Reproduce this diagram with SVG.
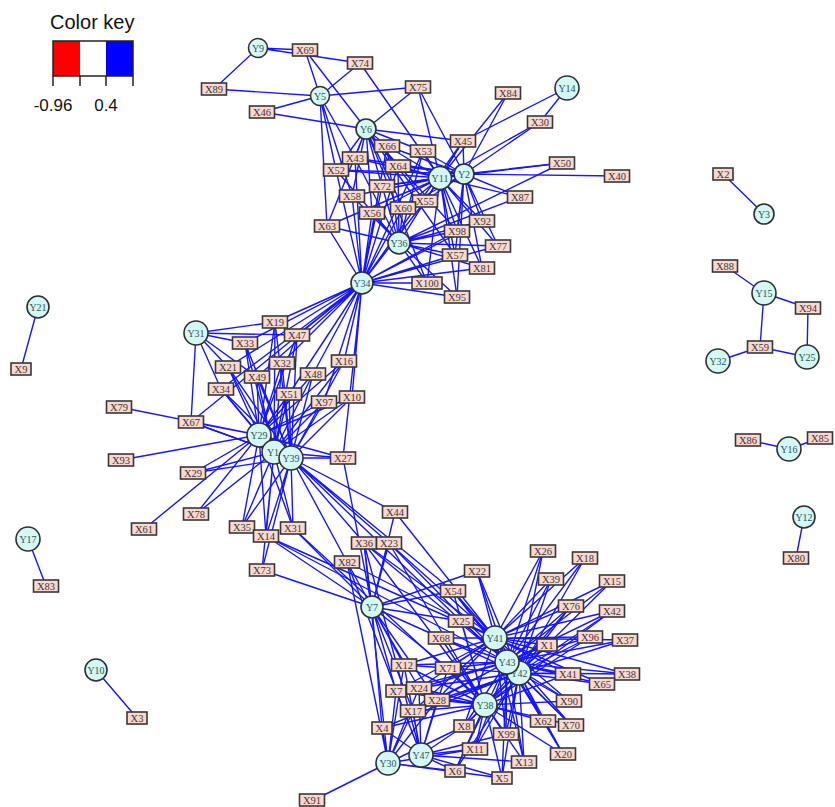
<svg xmlns="http://www.w3.org/2000/svg" width="835" height="807" viewBox="0 0 835 807">
<style>
.e path{fill:none;stroke:#1616ff;stroke-width:1.4;stroke-linecap:round}
.x rect{fill:#f9d8cf;stroke:#383838;stroke-width:1.6}
.x text{font-family:"Liberation Serif","Times New Roman",serif;font-size:10.5px;fill:#3f3434;text-anchor:middle}
.y circle{fill:#d3f8f6;stroke:#2f2f2f;stroke-width:1.6}
.y text{font-family:"Liberation Serif","Times New Roman",serif;font-size:10px;fill:#385050;text-anchor:middle}
.key text{font-family:"Liberation Sans",Arial,sans-serif;fill:#111}
</style>
<rect width="835" height="807" fill="#fff"/>

<!-- colour key -->
<g id="color-key" class="key">
  <text x="50" y="29" font-size="20">Color key</text>
  <rect x="53" y="41" width="27" height="35" fill="#ff0000"/>
  <rect x="80" y="41" width="26" height="35" fill="#ffffff"/>
  <rect x="106" y="41" width="27" height="35" fill="#0000ff"/>
  <rect x="53" y="41" width="80" height="35" fill="none" stroke="#222" stroke-width="1.5"/>
  <path d="M53 76V86M80 76V86M106 76V86M133 76V86" stroke="#222" stroke-width="1.5"/>
  <text x="53" y="111" font-size="17" text-anchor="middle">-0.96</text>
  <text x="106" y="111" font-size="17" text-anchor="middle">0.4</text>
</g>

<!-- connectors -->
<g id="connectors" class="e">
<path d="M258 48L214 89M258 48L305 50M258 48L360 63"/>
<path d="M320 96L214 89M320 96L305 50M320 96L360 63M320 96L418 87M320 96L262 112M320 96L355 158M320 96L336 170M320 96L327 226M320 96L352 196"/>
<path d="M366 129L305 50M366 129L418 87M366 129L262 112M366 129L463 141M366 129L387 146M366 129L423 151M366 129L355 158M366 129L398 166M366 129L336 170M366 129L382 186M366 129L352 196M366 129L372 213M366 129L403 208M366 129L425 201M366 129L327 226M366 129L457 231M366 129L455 255M366 129L427 283"/>
<path d="M567 88L540 122M567 88L463 141"/>
<path d="M440 178L360 63M440 178L418 87M440 178L508 93M440 178L540 122M440 178L463 141M440 178L387 146M440 178L423 151M440 178L355 158M440 178L398 166M440 178L336 170M440 178L382 186M440 178L352 196M440 178L425 201M440 178L403 208M440 178L372 213M440 178L327 226M440 178L482 221M440 178L457 231M440 178L455 255M440 178L482 268M440 178L427 283M440 178L457 297M440 178L562 163M440 178L520 197M440 178L498 246"/>
<path d="M464 174L508 93M464 174L540 122M464 174L463 141M464 174L562 163M464 174L617 176M464 174L520 197M464 174L482 221M464 174L457 231M464 174L498 246M464 174L455 255M464 174L482 268M464 174L398 166M464 174L423 151M464 174L418 87M464 174L387 146M464 174L382 186M464 174L425 201M464 174L457 297M464 174L403 208M464 174L355 158M464 174L336 170"/>
<path d="M399 243L387 146M399 243L423 151M399 243L398 166M399 243L382 186M399 243L425 201M399 243L403 208M399 243L372 213M399 243L352 196M399 243L355 158M399 243L336 170M399 243L327 226M399 243L482 221M399 243L457 231M399 243L498 246M399 243L455 255M399 243L482 268M399 243L427 283M399 243L457 297M399 243L463 141M399 243L520 197M399 243L562 163"/>
<path d="M362 283L387 146M362 283L355 158M362 283L336 170M362 283L398 166M362 283L382 186M362 283L352 196M362 283L372 213M362 283L403 208M362 283L425 201M362 283L327 226M362 283L457 231M362 283L455 255M362 283L482 268M362 283L427 283M362 283L457 297M362 283L482 221M362 283L498 246M362 283L423 151M362 283L463 141M362 283L275 322M362 283L297 335M362 283L245 343M362 283L228 367M362 283L282 363M362 283L257 377M362 283L313 374M362 283L344 361M362 283L289 394M362 283L324 402M362 283L352 397M362 283L221 389M362 283L343 458M362 283L191 422"/>
<path d="M196 333L275 322M196 333L297 335M196 333L245 343M196 333L228 367M196 333L221 389M196 333L191 422M196 333L257 377"/>
<path d="M259 435L275 322M259 435L297 335M259 435L245 343M259 435L228 367M259 435L282 363M259 435L257 377M259 435L313 374M259 435L344 361M259 435L221 389M259 435L289 394M259 435L324 402M259 435L352 397M259 435L191 422M259 435L119 407M259 435L121 460M259 435L193 473M259 435L196 514M259 435L144 529M259 435L242 527M259 435L293 528M259 435L266 536M259 435L343 458"/>
<path d="M274 452L275 322M274 452L297 335M274 452L245 343M274 452L228 367M274 452L282 363M274 452L257 377M274 452L313 374M274 452L221 389M274 452L289 394M274 452L324 402M274 452L352 397M274 452L191 422M274 452L193 473M274 452L196 514M274 452L242 527M274 452L266 536M274 452L293 528M274 452L262 570M274 452L343 458M274 452L344 361"/>
<path d="M291 458L275 322M291 458L297 335M291 458L245 343M291 458L228 367M291 458L282 363M291 458L257 377M291 458L313 374M291 458L344 361M291 458L289 394M291 458L324 402M291 458L352 397M291 458L343 458M291 458L193 473M291 458L242 527M291 458L266 536M291 458L293 528M291 458L347 562M291 458L364 543M291 458L389 543M291 458L395 512M291 458L262 570M291 458L191 422M291 458L221 389M291 458L453 591M291 458L461 621"/>
<path d="M372 607L364 543M372 607L389 543M372 607L347 562M372 607L343 458M372 607L262 570M372 607L266 536M372 607L293 528M372 607L395 512M372 607L477 571M372 607L453 591M372 607L461 621M372 607L441 638M372 607L404 665M372 607L448 668M372 607L396 691M372 607L419 688M372 607L437 700M372 607L413 711M372 607L382 728"/>
<path d="M495 638L364 543M495 638L389 543M495 638L395 512M495 638L347 562M495 638L266 536M495 638L477 571M495 638L453 591M495 638L461 621M495 638L441 638M495 638L543 551M495 638L585 558M495 638L551 579M495 638L612 581M495 638L571 606M495 638L612 611M495 638L590 637M495 638L625 640M495 638L547 645M495 638L568 674M495 638L627 674M495 638L602 684M495 638L569 701M495 638L543 721M495 638L571 725M495 638L404 665M495 638L448 668M495 638L419 688M495 638L437 700M495 638L413 711M495 638L464 726M495 638L506 734M495 638L524 762M495 638L563 754M495 638L396 691"/>
<path d="M507 662L477 571M507 662L453 591M507 662L461 621M507 662L441 638M507 662L543 551M507 662L585 558M507 662L551 579M507 662L612 581M507 662L571 606M507 662L612 611M507 662L590 637M507 662L625 640M507 662L547 645M507 662L568 674M507 662L627 674M507 662L602 684M507 662L569 701M507 662L543 721M507 662L571 725M507 662L563 754M507 662L404 665M507 662L448 668M507 662L419 688M507 662L437 700M507 662L413 711M507 662L396 691M507 662L464 726M507 662L506 734M507 662L475 749M507 662L524 762M507 662L455 771M507 662L502 778M507 662L364 543M507 662L389 543M507 662L266 536"/>
<path d="M519 673L477 571M519 673L543 551M519 673L585 558M519 673L551 579M519 673L612 581M519 673L571 606M519 673L612 611M519 673L590 637M519 673L625 640M519 673L547 645M519 673L568 674M519 673L627 674M519 673L602 684M519 673L569 701M519 673L543 721M519 673L571 725M519 673L563 754M519 673L404 665M519 673L448 668M519 673L396 691M519 673L419 688M519 673L437 700M519 673L413 711M519 673L382 728M519 673L464 726M519 673L506 734M519 673L475 749M519 673L524 762M519 673L455 771M519 673L502 778M519 673L461 621M519 673L453 591M519 673L441 638"/>
<path d="M485 705L404 665M485 705L448 668M485 705L396 691M485 705L419 688M485 705L437 700M485 705L413 711M485 705L382 728M485 705L464 726M485 705L506 734M485 705L475 749M485 705L524 762M485 705L455 771M485 705L502 778M485 705L543 721M485 705L571 725M485 705L563 754M485 705L569 701M485 705L568 674M485 705L547 645M485 705L441 638M485 705L461 621M485 705L453 591M485 705L590 637M485 705L612 611M485 705L571 606M485 705L364 543M485 705L389 543M485 705L293 528"/>
<path d="M421 755L396 691M421 755L419 688M421 755L437 700M421 755L413 711M421 755L382 728M421 755L464 726M421 755L475 749M421 755L524 762M421 755L455 771M421 755L502 778M421 755L404 665M421 755L448 668M421 755L364 543M421 755L347 562M421 755L506 734"/>
<path d="M388 763L312 801M388 763L382 728M388 763L396 691M388 763L413 711M388 763L419 688M388 763L404 665M388 763L455 771M388 763L502 778M388 763L364 543M388 763L347 562M388 763L475 749M388 763L464 726M388 763L437 700"/>
<path d="M723 174L764 214M725 266L764 293M764 293L808 308M764 293L760 347M808 308L807 357M760 347L807 357M718 361L760 347M748 440L789 449M789 449L820 438M804 517L796 558M38 307L21 369M28 539L46 586M96 670L137 718"/>
</g>

<!-- X variables -->
<g id="X69" class="x" transform="translate(305,50)"><rect x="-12.5" y="-6" width="25" height="12"/><text y="3.6">X69</text></g>
<g id="X74" class="x" transform="translate(360,63)"><rect x="-12.5" y="-6" width="25" height="12"/><text y="3.6">X74</text></g>
<g id="X89" class="x" transform="translate(214,89)"><rect x="-12.5" y="-6" width="25" height="12"/><text y="3.6">X89</text></g>
<g id="X75" class="x" transform="translate(418,87)"><rect x="-12.5" y="-6" width="25" height="12"/><text y="3.6">X75</text></g>
<g id="X46" class="x" transform="translate(262,112)"><rect x="-12.5" y="-6" width="25" height="12"/><text y="3.6">X46</text></g>
<g id="X84" class="x" transform="translate(508,93)"><rect x="-12.5" y="-6" width="25" height="12"/><text y="3.6">X84</text></g>
<g id="X30" class="x" transform="translate(540,122)"><rect x="-12.5" y="-6" width="25" height="12"/><text y="3.6">X30</text></g>
<g id="X45" class="x" transform="translate(463,141)"><rect x="-12.5" y="-6" width="25" height="12"/><text y="3.6">X45</text></g>
<g id="X66" class="x" transform="translate(387,146)"><rect x="-12.5" y="-6" width="25" height="12"/><text y="3.6">X66</text></g>
<g id="X53" class="x" transform="translate(423,151)"><rect x="-12.5" y="-6" width="25" height="12"/><text y="3.6">X53</text></g>
<g id="X43" class="x" transform="translate(355,158)"><rect x="-12.5" y="-6" width="25" height="12"/><text y="3.6">X43</text></g>
<g id="X64" class="x" transform="translate(398,166)"><rect x="-12.5" y="-6" width="25" height="12"/><text y="3.6">X64</text></g>
<g id="X52" class="x" transform="translate(336,170)"><rect x="-12.5" y="-6" width="25" height="12"/><text y="3.6">X52</text></g>
<g id="X50" class="x" transform="translate(562,163)"><rect x="-12.5" y="-6" width="25" height="12"/><text y="3.6">X50</text></g>
<g id="X40" class="x" transform="translate(617,176)"><rect x="-12.5" y="-6" width="25" height="12"/><text y="3.6">X40</text></g>
<g id="X72" class="x" transform="translate(382,186)"><rect x="-12.5" y="-6" width="25" height="12"/><text y="3.6">X72</text></g>
<g id="X58" class="x" transform="translate(352,196)"><rect x="-12.5" y="-6" width="25" height="12"/><text y="3.6">X58</text></g>
<g id="X55" class="x" transform="translate(425,201)"><rect x="-12.5" y="-6" width="25" height="12"/><text y="3.6">X55</text></g>
<g id="X60" class="x" transform="translate(403,208)"><rect x="-12.5" y="-6" width="25" height="12"/><text y="3.6">X60</text></g>
<g id="X87" class="x" transform="translate(520,197)"><rect x="-12.5" y="-6" width="25" height="12"/><text y="3.6">X87</text></g>
<g id="X56" class="x" transform="translate(372,213)"><rect x="-12.5" y="-6" width="25" height="12"/><text y="3.6">X56</text></g>
<g id="X63" class="x" transform="translate(327,226)"><rect x="-12.5" y="-6" width="25" height="12"/><text y="3.6">X63</text></g>
<g id="X92" class="x" transform="translate(482,221)"><rect x="-12.5" y="-6" width="25" height="12"/><text y="3.6">X92</text></g>
<g id="X98" class="x" transform="translate(457,231)"><rect x="-12.5" y="-6" width="25" height="12"/><text y="3.6">X98</text></g>
<g id="X77" class="x" transform="translate(498,246)"><rect x="-12.5" y="-6" width="25" height="12"/><text y="3.6">X77</text></g>
<g id="X57" class="x" transform="translate(455,255)"><rect x="-12.5" y="-6" width="25" height="12"/><text y="3.6">X57</text></g>
<g id="X81" class="x" transform="translate(482,268)"><rect x="-12.5" y="-6" width="25" height="12"/><text y="3.6">X81</text></g>
<g id="X100" class="x" transform="translate(427,283)"><rect x="-15" y="-6" width="30" height="12"/><text y="3.6">X100</text></g>
<g id="X95" class="x" transform="translate(457,297)"><rect x="-12.5" y="-6" width="25" height="12"/><text y="3.6">X95</text></g>
<g id="X19" class="x" transform="translate(275,322)"><rect x="-12.5" y="-6" width="25" height="12"/><text y="3.6">X19</text></g>
<g id="X47" class="x" transform="translate(297,335)"><rect x="-12.5" y="-6" width="25" height="12"/><text y="3.6">X47</text></g>
<g id="X33" class="x" transform="translate(245,343)"><rect x="-12.5" y="-6" width="25" height="12"/><text y="3.6">X33</text></g>
<g id="X32" class="x" transform="translate(282,363)"><rect x="-12.5" y="-6" width="25" height="12"/><text y="3.6">X32</text></g>
<g id="X21" class="x" transform="translate(228,367)"><rect x="-12.5" y="-6" width="25" height="12"/><text y="3.6">X21</text></g>
<g id="X49" class="x" transform="translate(257,377)"><rect x="-12.5" y="-6" width="25" height="12"/><text y="3.6">X49</text></g>
<g id="X16" class="x" transform="translate(344,361)"><rect x="-12.5" y="-6" width="25" height="12"/><text y="3.6">X16</text></g>
<g id="X48" class="x" transform="translate(313,374)"><rect x="-12.5" y="-6" width="25" height="12"/><text y="3.6">X48</text></g>
<g id="X34" class="x" transform="translate(221,389)"><rect x="-12.5" y="-6" width="25" height="12"/><text y="3.6">X34</text></g>
<g id="X51" class="x" transform="translate(289,394)"><rect x="-12.5" y="-6" width="25" height="12"/><text y="3.6">X51</text></g>
<g id="X10" class="x" transform="translate(352,397)"><rect x="-12.5" y="-6" width="25" height="12"/><text y="3.6">X10</text></g>
<g id="X97" class="x" transform="translate(324,402)"><rect x="-12.5" y="-6" width="25" height="12"/><text y="3.6">X97</text></g>
<g id="X67" class="x" transform="translate(191,422)"><rect x="-12.5" y="-6" width="25" height="12"/><text y="3.6">X67</text></g>
<g id="X79" class="x" transform="translate(119,407)"><rect x="-12.5" y="-6" width="25" height="12"/><text y="3.6">X79</text></g>
<g id="X27" class="x" transform="translate(343,458)"><rect x="-12.5" y="-6" width="25" height="12"/><text y="3.6">X27</text></g>
<g id="X93" class="x" transform="translate(121,460)"><rect x="-12.5" y="-6" width="25" height="12"/><text y="3.6">X93</text></g>
<g id="X29" class="x" transform="translate(193,473)"><rect x="-12.5" y="-6" width="25" height="12"/><text y="3.6">X29</text></g>
<g id="X78" class="x" transform="translate(196,514)"><rect x="-12.5" y="-6" width="25" height="12"/><text y="3.6">X78</text></g>
<g id="X61" class="x" transform="translate(144,529)"><rect x="-12.5" y="-6" width="25" height="12"/><text y="3.6">X61</text></g>
<g id="X44" class="x" transform="translate(395,512)"><rect x="-12.5" y="-6" width="25" height="12"/><text y="3.6">X44</text></g>
<g id="X35" class="x" transform="translate(242,527)"><rect x="-12.5" y="-6" width="25" height="12"/><text y="3.6">X35</text></g>
<g id="X31" class="x" transform="translate(293,528)"><rect x="-12.5" y="-6" width="25" height="12"/><text y="3.6">X31</text></g>
<g id="X14" class="x" transform="translate(266,536)"><rect x="-12.5" y="-6" width="25" height="12"/><text y="3.6">X14</text></g>
<g id="X36" class="x" transform="translate(364,543)"><rect x="-12.5" y="-6" width="25" height="12"/><text y="3.6">X36</text></g>
<g id="X23" class="x" transform="translate(389,543)"><rect x="-12.5" y="-6" width="25" height="12"/><text y="3.6">X23</text></g>
<g id="X82" class="x" transform="translate(347,562)"><rect x="-12.5" y="-6" width="25" height="12"/><text y="3.6">X82</text></g>
<g id="X73" class="x" transform="translate(262,570)"><rect x="-12.5" y="-6" width="25" height="12"/><text y="3.6">X73</text></g>
<g id="X26" class="x" transform="translate(543,551)"><rect x="-12.5" y="-6" width="25" height="12"/><text y="3.6">X26</text></g>
<g id="X18" class="x" transform="translate(585,558)"><rect x="-12.5" y="-6" width="25" height="12"/><text y="3.6">X18</text></g>
<g id="X22" class="x" transform="translate(477,571)"><rect x="-12.5" y="-6" width="25" height="12"/><text y="3.6">X22</text></g>
<g id="X39" class="x" transform="translate(551,579)"><rect x="-12.5" y="-6" width="25" height="12"/><text y="3.6">X39</text></g>
<g id="X15" class="x" transform="translate(612,581)"><rect x="-12.5" y="-6" width="25" height="12"/><text y="3.6">X15</text></g>
<g id="X54" class="x" transform="translate(453,591)"><rect x="-12.5" y="-6" width="25" height="12"/><text y="3.6">X54</text></g>
<g id="X76" class="x" transform="translate(571,606)"><rect x="-12.5" y="-6" width="25" height="12"/><text y="3.6">X76</text></g>
<g id="X42" class="x" transform="translate(612,611)"><rect x="-12.5" y="-6" width="25" height="12"/><text y="3.6">X42</text></g>
<g id="X25" class="x" transform="translate(461,621)"><rect x="-12.5" y="-6" width="25" height="12"/><text y="3.6">X25</text></g>
<g id="X68" class="x" transform="translate(441,638)"><rect x="-12.5" y="-6" width="25" height="12"/><text y="3.6">X68</text></g>
<g id="X96" class="x" transform="translate(590,637)"><rect x="-12.5" y="-6" width="25" height="12"/><text y="3.6">X96</text></g>
<g id="X37" class="x" transform="translate(625,640)"><rect x="-12.5" y="-6" width="25" height="12"/><text y="3.6">X37</text></g>
<g id="X1" class="x" transform="translate(547,645)"><rect x="-10" y="-6" width="20" height="12"/><text y="3.6">X1</text></g>
<g id="X12" class="x" transform="translate(404,665)"><rect x="-12.5" y="-6" width="25" height="12"/><text y="3.6">X12</text></g>
<g id="X71" class="x" transform="translate(448,668)"><rect x="-12.5" y="-6" width="25" height="12"/><text y="3.6">X71</text></g>
<g id="X41" class="x" transform="translate(568,674)"><rect x="-12.5" y="-6" width="25" height="12"/><text y="3.6">X41</text></g>
<g id="X38" class="x" transform="translate(627,674)"><rect x="-12.5" y="-6" width="25" height="12"/><text y="3.6">X38</text></g>
<g id="X65" class="x" transform="translate(602,684)"><rect x="-12.5" y="-6" width="25" height="12"/><text y="3.6">X65</text></g>
<g id="X7" class="x" transform="translate(396,691)"><rect x="-10" y="-6" width="20" height="12"/><text y="3.6">X7</text></g>
<g id="X24" class="x" transform="translate(419,688)"><rect x="-12.5" y="-6" width="25" height="12"/><text y="3.6">X24</text></g>
<g id="X28" class="x" transform="translate(437,700)"><rect x="-12.5" y="-6" width="25" height="12"/><text y="3.6">X28</text></g>
<g id="X90" class="x" transform="translate(569,701)"><rect x="-12.5" y="-6" width="25" height="12"/><text y="3.6">X90</text></g>
<g id="X17" class="x" transform="translate(413,711)"><rect x="-12.5" y="-6" width="25" height="12"/><text y="3.6">X17</text></g>
<g id="X62" class="x" transform="translate(543,721)"><rect x="-12.5" y="-6" width="25" height="12"/><text y="3.6">X62</text></g>
<g id="X70" class="x" transform="translate(571,725)"><rect x="-12.5" y="-6" width="25" height="12"/><text y="3.6">X70</text></g>
<g id="X4" class="x" transform="translate(382,728)"><rect x="-10" y="-6" width="20" height="12"/><text y="3.6">X4</text></g>
<g id="X8" class="x" transform="translate(464,726)"><rect x="-10" y="-6" width="20" height="12"/><text y="3.6">X8</text></g>
<g id="X99" class="x" transform="translate(506,734)"><rect x="-12.5" y="-6" width="25" height="12"/><text y="3.6">X99</text></g>
<g id="X11" class="x" transform="translate(475,749)"><rect x="-12.5" y="-6" width="25" height="12"/><text y="3.6">X11</text></g>
<g id="X20" class="x" transform="translate(563,754)"><rect x="-12.5" y="-6" width="25" height="12"/><text y="3.6">X20</text></g>
<g id="X13" class="x" transform="translate(524,762)"><rect x="-12.5" y="-6" width="25" height="12"/><text y="3.6">X13</text></g>
<g id="X6" class="x" transform="translate(455,771)"><rect x="-10" y="-6" width="20" height="12"/><text y="3.6">X6</text></g>
<g id="X5" class="x" transform="translate(502,778)"><rect x="-10" y="-6" width="20" height="12"/><text y="3.6">X5</text></g>
<g id="X91" class="x" transform="translate(312,800)"><rect x="-12.5" y="-6" width="25" height="12"/><text y="3.6">X91</text></g>
<g id="X2" class="x" transform="translate(723,174)"><rect x="-10" y="-6" width="20" height="12"/><text y="3.6">X2</text></g>
<g id="X88" class="x" transform="translate(725,266)"><rect x="-12.5" y="-6" width="25" height="12"/><text y="3.6">X88</text></g>
<g id="X94" class="x" transform="translate(808,308)"><rect x="-12.5" y="-6" width="25" height="12"/><text y="3.6">X94</text></g>
<g id="X59" class="x" transform="translate(760,347)"><rect x="-12.5" y="-6" width="25" height="12"/><text y="3.6">X59</text></g>
<g id="X86" class="x" transform="translate(748,440)"><rect x="-12.5" y="-6" width="25" height="12"/><text y="3.6">X86</text></g>
<g id="X85" class="x" transform="translate(820,438)"><rect x="-12.5" y="-6" width="25" height="12"/><text y="3.6">X85</text></g>
<g id="X80" class="x" transform="translate(796,558)"><rect x="-12.5" y="-6" width="25" height="12"/><text y="3.6">X80</text></g>
<g id="X9" class="x" transform="translate(21,369)"><rect x="-10" y="-6" width="20" height="12"/><text y="3.6">X9</text></g>
<g id="X83" class="x" transform="translate(46,586)"><rect x="-12.5" y="-6" width="25" height="12"/><text y="3.6">X83</text></g>
<g id="X3" class="x" transform="translate(137,718)"><rect x="-10" y="-6" width="20" height="12"/><text y="3.6">X3</text></g>

<!-- Y variables -->
<g id="Y9" class="y" transform="translate(258,48)"><circle r="9.5"/><text y="3.5">Y9</text></g>
<g id="Y5" class="y" transform="translate(320,96)"><circle r="9.5"/><text y="3.5">Y5</text></g>
<g id="Y6" class="y" transform="translate(366,129)"><circle r="10"/><text y="3.5">Y6</text></g>
<g id="Y14" class="y" transform="translate(567,88)"><circle r="12"/><text y="3.5">Y14</text></g>
<g id="Y11" class="y" transform="translate(440,178)"><circle r="11.5"/><text y="3.5">Y11</text></g>
<g id="Y2" class="y" transform="translate(464,174)"><circle r="10"/><text y="3.5">Y2</text></g>
<g id="Y36" class="y" transform="translate(399,243)"><circle r="11"/><text y="3.5">Y36</text></g>
<g id="Y34" class="y" transform="translate(362,283)"><circle r="11"/><text y="3.5">Y34</text></g>
<g id="Y31" class="y" transform="translate(196,333)"><circle r="12"/><text y="3.5">Y31</text></g>
<g id="Y29" class="y" transform="translate(259,435)"><circle r="12"/><text y="3.5">Y29</text></g>
<g id="Y1" class="y" transform="translate(274,452)"><circle r="12"/><text x="-1" y="3.5">Y1</text></g>
<g id="Y39" class="y" transform="translate(291,458)"><circle r="12"/><text y="3.5">Y39</text></g>
<g id="Y7" class="y" transform="translate(372,607)"><circle r="11"/><text y="3.5">Y7</text></g>
<g id="Y42" class="y" transform="translate(519,673)"><circle r="12"/><text y="3.5">Y42</text></g>
<g id="Y43" class="y" transform="translate(507,662)"><circle r="12"/><text y="3.5">Y43</text></g>
<g id="Y41" class="y" transform="translate(495,638)"><circle r="12"/><text y="3.5">Y41</text></g>
<g id="Y38" class="y" transform="translate(485,705)"><circle r="12"/><text y="3.5">Y38</text></g>
<g id="Y47" class="y" transform="translate(421,755)"><circle r="12"/><text y="3.5">Y47</text></g>
<g id="Y30" class="y" transform="translate(388,763)"><circle r="12"/><text y="3.5">Y30</text></g>
<g id="Y3" class="y" transform="translate(764,214)"><circle r="10"/><text y="3.5">Y3</text></g>
<g id="Y15" class="y" transform="translate(764,293)"><circle r="12"/><text y="3.5">Y15</text></g>
<g id="Y32" class="y" transform="translate(718,361)"><circle r="12"/><text y="3.5">Y32</text></g>
<g id="Y25" class="y" transform="translate(807,357)"><circle r="12"/><text y="3.5">Y25</text></g>
<g id="Y16" class="y" transform="translate(789,449)"><circle r="12"/><text y="3.5">Y16</text></g>
<g id="Y12" class="y" transform="translate(804,517)"><circle r="11"/><text y="3.5">Y12</text></g>
<g id="Y21" class="y" transform="translate(38,307)"><circle r="11"/><text y="3.5">Y21</text></g>
<g id="Y17" class="y" transform="translate(28,539)"><circle r="12"/><text y="3.5">Y17</text></g>
<g id="Y10" class="y" transform="translate(96,670)"><circle r="11"/><text y="3.5">Y10</text></g>
</svg>
